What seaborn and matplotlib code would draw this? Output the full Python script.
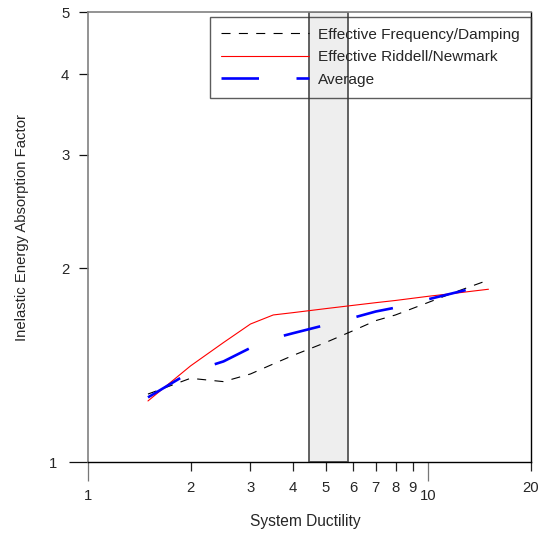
import matplotlib
matplotlib.use("Agg")
import matplotlib.pyplot as plt
import seaborn as sns
import pandas as pd

# ---- data ----
ductility = [1.5, 2, 2.5, 3, 3.5, 4, 5, 6, 7, 8, 10, 12, 15]
freq_damping = [1.275, 1.349, 1.333, 1.37, 1.42, 1.464, 1.534, 1.599, 1.658, 1.692, 1.77, 1.837, 1.917]
riddell_newmark = [1.244, 1.41, 1.533, 1.638, 1.692, 1.706, 1.731, 1.751, 1.768, 1.782, 1.809, 1.829, 1.855]
average = [1.26, 1.38, 1.433, 1.504, 1.556, 1.585, 1.633, 1.675, 1.713, 1.737, 1.79, 1.833, 1.886]
band = [4.46, 5.79]

series_names = ["Effective Frequency/Damping", "Effective Riddell/Newmark", "Average"]

x_major = [1, 10]
x_major_labels = ["1", "10"]
x_minor = [2, 3, 4, 5, 6, 7, 8, 9, 20]
x_minor_labels = ["2", "3", "4", "5", "6", "7", "8", "9", "20"]
y_major = [1]
y_major_labels = ["1"]
y_minor = [2, 3, 4, 5]
y_minor_labels = ["2", "3", "4", "5"]

sns.set_style("ticks")
plt.rcParams["font.family"] = ["Liberation Sans", "DejaVu Sans"]
plt.rcParams["lines.scale_dashes"] = False

df = pd.DataFrame({"x": ductility, "fd": freq_damping, "rn": riddell_newmark, "avg": average})

fig = plt.figure(figsize=(5.47, 5.38), dpi=100)
W, H = 547, 538
L, R, T, B = 88, 531, 12, 462
ax = fig.add_axes([L / W, 1 - B / H, (R - L) / W, (B - T) / H])

ax.axvspan(band[0], band[1], facecolor="#eeeeee", edgecolor="#555555", linewidth=1.3, zorder=1)

sns.lineplot(data=df, x="x", y="fd", ax=ax, color="black", linewidth=0.8,
             linestyle=(0, (6.5, 6.0)), label=series_names[0], zorder=3)
sns.lineplot(data=df, x="x", y="rn", ax=ax, color="red", linewidth=0.8,
             linestyle="-", label=series_names[1], zorder=3)
sns.lineplot(data=df, x="x", y="avg", ax=ax, color="blue", linewidth=1.9,
             linestyle=(0, (27, 27)), label=series_names[2], zorder=4)

ax.set_xscale("log")
ax.set_yscale("log")
ax.set_xlim(1, 20)
ax.set_ylim(1, 5)

ax.set_xticks(x_major, x_major_labels)
ax.set_xticks(x_minor, x_minor_labels, minor=True)
ax.set_yticks(y_major, y_major_labels)
ax.set_yticks(y_minor, y_minor_labels, minor=True)

ts = 10.7
ax.tick_params(axis="x", which="major", length=13.7, width=0.9, color="#777777", pad=6.0, labelsize=ts)
ax.tick_params(axis="x", which="minor", length=6.5, width=0.9, color="#222222", pad=7.5, labelsize=ts)
ax.tick_params(axis="y", which="major", length=13.7, width=0.9, color="#111111", pad=8.5, labelsize=ts)
ax.tick_params(axis="y", which="minor", length=6.5, width=0.9, color="#111111", pad=7, labelsize=ts)

for side, col, lw in [("top", "#808080", 1.2), ("left", "#808080", 1.2), ("right", "black", 1.0), ("bottom", "black", 1.0)]:
    ax.spines[side].set_visible(True)
    ax.spines[side].set_color(col)
    ax.spines[side].set_linewidth(lw)

ax.set_xlabel("System Ductility", fontsize=11.2)
ax.set_ylabel("Inelastic Energy Absorption Factor", fontsize=10.7)
ax.xaxis.set_label_coords(0.49, -0.116)
ax.yaxis.set_label_coords(-0.133, 0.522)

fs = 11.1
leg = ax.legend(loc="upper right", bbox_to_anchor=(1.0, 1 - 5 / 450), borderaxespad=0,
                fontsize=fs, handlelength=64 / fs, handletextpad=6.5 / fs, borderpad=0.7,
                labelspacing=0.55, fancybox=False, frameon=True)
leg.get_frame().set_facecolor("none")
leg.get_frame().set_edgecolor("#333333")
leg.get_frame().set_linewidth(1.0)

fig.savefig("out.png", dpi=100)
